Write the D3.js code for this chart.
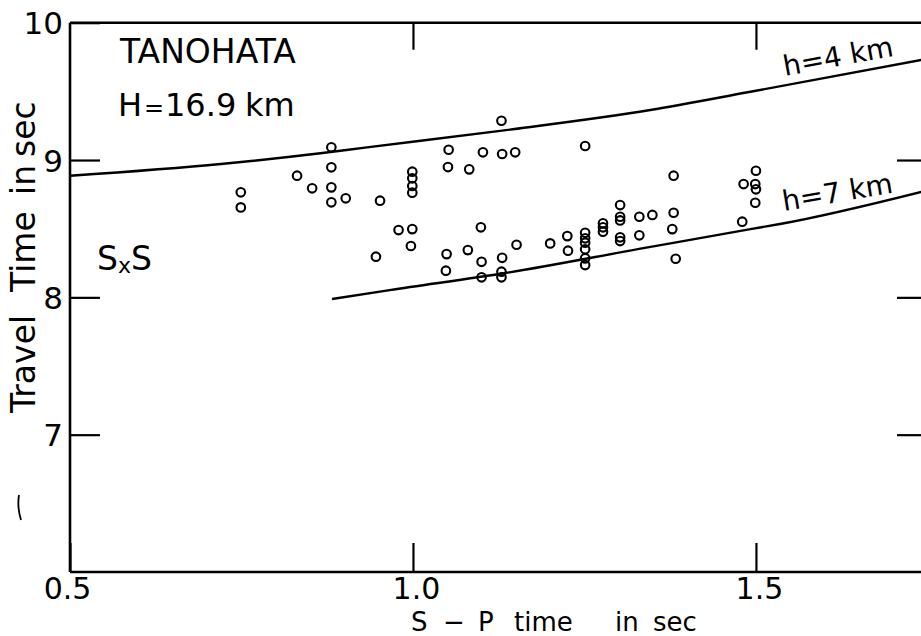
<!DOCTYPE html>
<html>
<head>
<meta charset="utf-8">
<script src="https://cdn.jsdelivr.net/npm/d3@7"></script>
<style>
  html, body { margin: 0; padding: 0; background: #fff; }
  svg { display: block; }
  text { font-family: "DejaVu Sans", sans-serif; fill: #000; }
</style>
</head>
<body>
<div id="chart"></div>
<script>
// ---- Data ----
const spTime = [0.749,0.749,0.831,0.853,0.881,0.881,0.881,0.881,0.902,0.946,0.952,0.979,
  0.999,0.999,0.999,0.999,0.999,0.997,1.048,1.049,1.051,1.052,1.080,1.082,1.099,1.100,1.100,
  1.102,1.129,1.130,1.130,1.129,1.129,1.149,1.151,1.200,1.225,1.226,1.251,
  1.251,1.251,1.251,1.251,1.251,1.251,1.277,1.277,1.277,
  1.302,1.302,1.302,1.302,1.302,1.330,1.330,1.349,1.380,1.380,1.378,1.383,
  1.482,1.480,1.500,1.499,1.500,1.499];
const travelTime = [8.765,8.655,8.886,8.794,9.093,8.947,8.801,8.692,8.721,8.296,8.704,8.490,
  8.915,8.867,8.811,8.762,8.497,8.374,8.194,8.315,8.949,9.075,8.344,8.932,8.510,8.259,8.146,
  9.056,9.286,9.044,8.288,8.187,8.146,9.056,8.383,8.393,8.446,8.340,9.102,
  8.470,8.430,8.398,8.350,8.284,8.235,8.539,8.510,8.478,
  8.672,8.587,8.560,8.437,8.410,8.587,8.452,8.600,8.886,8.616,8.497,8.281,
  8.825,8.551,8.922,8.825,8.787,8.689];

const h4X = [0.50, 0.72, 0.865, 0.93, 1.13, 1.346, 1.492, 1.745];
const h4Y = [8.885, 8.971, 9.049, 9.09, 9.214, 9.364, 9.497, 9.732];
const h7X = [0.882, 0.966, 1.135, 1.338, 1.492, 1.535, 1.745];
const h7Y = [7.988, 8.053, 8.177, 8.360, 8.497, 8.534, 8.773];

const xTicks = [0.5, 1.0, 1.5];
const xTickLabels = ["0.5", "1.0", "1.5"];
const yTicks = [7, 8, 9, 10];
const yTickLabels = ["7", "8", "9", "10"];

// ---- Layout ----
const W = 921, H = 636;
const x = d3.scaleLinear().domain([0.5, 1.745]).range([70, 924]);
const y = d3.scaleLinear().domain([6, 10]).range([572, 22.7]);

const svg = d3.select("#chart").append("svg")
  .attr("width", W).attr("height", H)
  .style("background", "#fff");

// frame
const frame = svg.append("g").attr("fill", "none").attr("stroke", "#000").attr("stroke-width", 2.6);
frame.append("line").attr("x1", x(0.5)).attr("x2", x(0.5)).attr("y1", y(10)).attr("y2", y(6));
frame.append("line").attr("x1", x(0.5)).attr("x2", x(1.745)).attr("y1", y(10)).attr("y2", y(10));
frame.append("line").attr("x1", x(0.5)).attr("x2", x(1.745)).attr("y1", y(6)).attr("y2", y(6));
frame.append("line").attr("x1", x(1.745)).attr("x2", x(1.745)).attr("y1", y(10)).attr("y2", y(6));

// axes
const xAxis = d3.axisBottom(x).tickValues(xTicks)
  .tickFormat((d, i) => xTickLabels[i]).tickSizeInner(-29).tickSizeOuter(0).tickPadding(6);
const gx = svg.append("g").attr("transform", `translate(0,${y(6)})`).call(xAxis);
gx.select(".domain").remove();
gx.selectAll(".tick line").attr("stroke", "#000").attr("stroke-width", 2.2);
gx.selectAll(".tick text").attr("font-size", 30).attr("font-family", "DejaVu Sans, sans-serif")
  .attr("fill", "#000").attr("dx", (d) => d === 0.5 ? -3 : 3);

const xTop = d3.axisTop(x).tickValues([1.0, 1.5]).tickFormat("").tickSizeInner(-27).tickSizeOuter(0);
const gxt = svg.append("g").attr("transform", `translate(0,${y(10)})`).call(xTop);
gxt.select(".domain").remove();
gxt.selectAll(".tick line").attr("stroke", "#000").attr("stroke-width", 2.2);

const yAxis = d3.axisLeft(y).tickValues(yTicks)
  .tickFormat((d, i) => yTickLabels[i]).tickSizeInner(-30).tickSizeOuter(0).tickPadding(7);
const gy = svg.append("g").attr("transform", `translate(${x(0.5)},0)`).call(yAxis);
gy.select(".domain").remove();
gy.selectAll(".tick line").attr("stroke", "#000").attr("stroke-width", 2.2);
gy.selectAll(".tick text").attr("font-size", 31).attr("font-family", "DejaVu Sans, sans-serif")
  .attr("fill", "#000").attr("dy", "0.36em");

const yRight = d3.axisRight(y).tickValues([7, 8, 9]).tickFormat("").tickSizeInner(-27).tickSizeOuter(0);
const gyr = svg.append("g").attr("transform", `translate(${x(1.745)},0)`).call(yRight);
gyr.select(".domain").remove();
gyr.selectAll(".tick line").attr("stroke", "#000").attr("stroke-width", 2.2);

// curves
const line = d3.line().x(d => x(d[0])).y(d => y(d[1])).curve(d3.curveMonotoneX);
const h4 = h4X.map((v, i) => [v, h4Y[i]]);
const h7 = h7X.map((v, i) => [v, h7Y[i]]);
svg.append("path").datum(h4).attr("d", line).attr("fill", "none").attr("stroke", "#000").attr("stroke-width", 2.4);
svg.append("path").datum(h7).attr("d", line).attr("fill", "none").attr("stroke", "#000").attr("stroke-width", 2.4);

// points
svg.append("g").selectAll("circle")
  .data(spTime.map((v, i) => [v, travelTime[i]]))
  .join("circle")
  .attr("cx", d => x(d[0])).attr("cy", d => y(d[1])).attr("r", 4.3)
  .attr("fill", "none").attr("stroke", "#000").attr("stroke-width", 2.1);

// curve labels
svg.append("text").attr("transform", "translate(785,76) rotate(-10.5)")
  .attr("font-size", 28).text("h=4 km");
svg.append("text").attr("transform", "translate(784,211) rotate(-9.5)")
  .attr("font-size", 28).text("h=7 km");

// annotations
svg.append("text").attr("x", 120).attr("y", 63).attr("font-size", 33).text("TANOHATA");
const hl = svg.append("text").attr("y", 116).attr("font-size", 32);
hl.append("tspan").attr("x", 118).text("H");
hl.append("tspan").attr("x", 144).attr("font-size", 24).text("=");
hl.append("tspan").attr("x", 165).text("16.9");
hl.append("tspan").attr("x", 245).text("km");

const sxs = svg.append("text").attr("x", 97).attr("y", 270).attr("font-size", 33);
sxs.append("tspan").text("S");
sxs.append("tspan").attr("font-size", 22).attr("dy", 3).text("x");
sxs.append("tspan").attr("dy", -3).text("S");

// axis titles
const xt = svg.append("text").attr("y", 631).attr("font-size", 26);
xt.append("tspan").attr("x", 411).text("S");
xt.append("tspan").attr("x", 443).text("\u2212");
xt.append("tspan").attr("x", 478).text("P");
xt.append("tspan").attr("x", 514).text("time");
xt.append("tspan").attr("x", 615).text("in");
xt.append("tspan").attr("x", 653).text("sec");

const yt = svg.append("text").attr("transform", "rotate(-90)").attr("y", 35).attr("font-size", 33);
yt.append("tspan").attr("x", -413).text("Travel");
yt.append("tspan").attr("x", -292).text("Time");
yt.append("tspan").attr("x", -195).text("in");
yt.append("tspan").attr("x", -157).text("sec");

// stray pen mark at left (scan artefact)
svg.append("path").attr("d", "M19,495 Q17,507 21,520").attr("fill", "none")
  .attr("stroke", "#000").attr("stroke-width", 1.8);
</script>
</body>
</html>
